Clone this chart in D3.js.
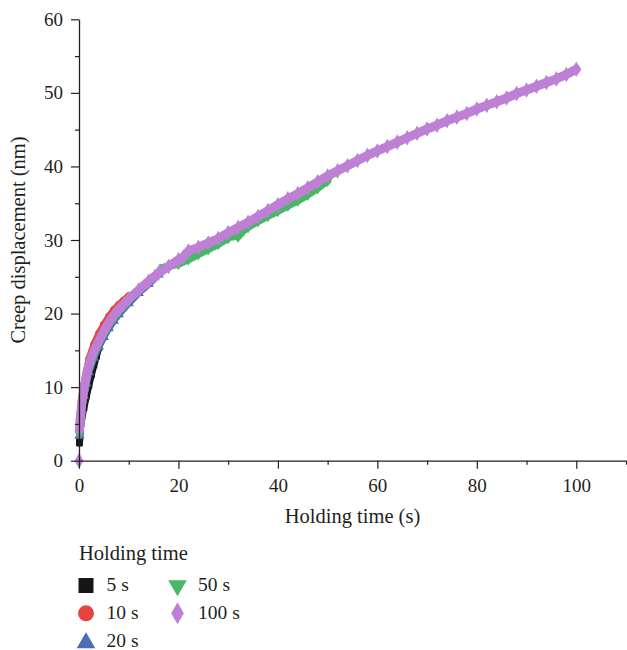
<!DOCTYPE html>
<html><head><meta charset="utf-8">
<script src="https://cdn.jsdelivr.net/npm/d3@7"></script>
<style>
body{margin:0;background:#fff}
svg{display:block}
text{font-family:"Liberation Serif","Times New Roman",serif;fill:#231f20}
</style>
</head><body>
<svg id="chart" width="627" height="650"></svg>
<script>
// ---- data ----
const seriesNames = ["5 s", "10 s", "20 s", "50 s", "100 s"];
const legendTitle = "Holding time";
const xTitle = "Holding time (s)";
const yTitle = "Creep displacement (nm)";

const t5 = [0.1, 0.3, 0.6, 1, 1.5, 2, 2.5, 3, 3.5, 4, 4.5, 5];
const v5 = [2.4, 4.6, 6.0, 7.2, 8.8, 10.3, 11.7, 13.0, 14.2, 15.4, 16.6, 18.4];

const t10 = [0.1, 0.25, 0.5, 1, 1.5, 2, 3, 4, 5, 6, 7, 8, 9, 10];
const v10 = [5.6, 6.4, 8.2, 10.3, 12.2, 13.8, 15.8, 17.3, 18.5, 19.6, 20.5, 21.2, 21.8, 22.4];

const t20 = [0.1, 0.25, 0.5, 1, 1.5, 2, 3, 4, 5, 6, 7, 8, 10, 12, 14, 16, 18, 20];
const v20 = [3.4, 5.0, 6.8, 8.8, 10.5, 12.0, 14.0, 15.5, 16.8, 18.0, 19.0, 19.9, 21.4, 22.8, 24.0, 25.3, 26.5, 27.2];

const t50 = [0.1, 0.25, 0.5, 1, 1.5, 2, 3, 4, 5, 6, 8, 10, 12, 14, 16, 17, 18, 20, 22, 24, 26, 28, 30, 31, 32, 33, 34, 36, 38, 40, 42, 44, 46, 48, 50];
const v50 = [3.6, 5.0, 7.0, 9.2, 11.0, 12.4, 14.4, 15.9, 17.2, 18.4, 20.2, 21.7, 23.0, 24.3, 25.6, 26.3, 26.4, 26.7, 27.3, 28.0, 28.7, 29.4, 30.2, 30.6, 30.4, 31.2, 31.7, 32.5, 33.2, 33.9, 34.6, 35.3, 36.1, 37.0, 38.0];

const t100 = [0, 0.1, 0.25, 0.5, 0.75, 1, 1.5, 2, 2.5, 3, 3.5, 4, 5, 6, 7, 8, 9, 10, 12, 14, 16, 18, 20, 21, 22, 24, 26, 28, 30, 32, 34, 36, 38, 40, 42, 44, 46, 48, 50, 52, 54, 56, 58, 60, 62, 64, 66, 68, 70, 72, 74, 76, 78, 80, 82, 84, 86, 88, 90, 92, 94, 96, 98, 100];
const v100 = [0, 4.2, 5.6, 7.4, 8.7, 9.8, 11.6, 13.0, 14.0, 14.9, 15.6, 16.3, 17.6, 18.8, 19.8, 20.6, 21.3, 22.0, 23.2, 24.4, 25.5, 26.4, 27.3, 27.7, 28.5, 29.0, 29.6, 30.2, 31.0, 31.7, 32.4, 33.2, 34.0, 34.8, 35.6, 36.3, 37.1, 37.9, 38.7, 39.4, 40.1, 40.8, 41.5, 42.1, 42.7, 43.3, 43.9, 44.5, 45.1, 45.6, 46.2, 46.7, 47.2, 47.8, 48.3, 48.8, 49.3, 49.9, 50.4, 50.9, 51.4, 51.9, 52.5, 53.2];

const xMajorTicks = [0, 20, 40, 60, 80, 100];
const xMinorTicks = [10, 30, 50, 70, 90, 110];
const yMajorTicks = [0, 10, 20, 30, 40, 50, 60];
const yMinorTicks = [5, 15, 25, 35, 45, 55];

// ---- styling ----
const colors = ["#161616", "#e8433f", "#4b6db6", "#46b866", "#bd80d4"];
const symbols = [d3.symbolSquare, d3.symbolCircle, d3.symbolTriangle, "down", d3.symbolDiamond];
const ink = "#231f20";

const svg = d3.select("#chart");
const x = d3.scaleLinear().domain([0, 110]).range([79, 626]);
const y = d3.scaleLinear().domain([0, 60]).range([460.7, 19.3]);

const series = [
  {t: t5, v: v5}, {t: t10, v: v10}, {t: t20, v: v20}, {t: t50, v: v50}, {t: t100, v: v100}
].map((s, i) => ({name: seriesNames[i], color: colors[i], sym: symbols[i],
  pts: s.t.map((tt, k) => ({t: tt, v: s.v[k]}))}));

function symPath(sym, size) {
  if (sym === "down") return d3.symbol(d3.symbolTriangle, size)();
  return d3.symbol(sym, size)();
}

// ---- data marks ----
const line = d3.line().defined(d => d.t > 0).x(d => x(d.t)).y(d => y(d.v)).curve(d3.curveLinear);
const gData = svg.append("g");
series.forEach((s, i) => {
  const g = gData.append("g");
  g.append("path").datum(s.pts).attr("d", line)
    .attr("fill", "none").attr("stroke", s.color)
    .attr("stroke-width", i === 4 ? 9 : 7)
    .attr("stroke-linejoin", "round").attr("stroke-linecap", "round");
  g.selectAll("path.m").data(s.pts).enter().append("path").attr("class", "m")
    .attr("d", symPath(s.sym, i === 4 ? 70 : 45))
    .attr("transform", d => `translate(${x(d.t)},${y(d.v)})` + (s.sym === "down" ? " rotate(180)" : ""))
    .attr("fill", s.color);
});

// ---- axes ----
function styleAxis(g) {
  g.selectAll("path.domain").attr("stroke", ink).attr("stroke-width", 1.3);
  g.selectAll(".tick line").attr("stroke", ink).attr("stroke-width", 1.2);
  g.selectAll(".tick text").attr("font-size", 19).attr("fill", ink)
    .attr("font-family", '"Liberation Serif","Times New Roman",serif');
}
const xAxisG = svg.append("g").attr("transform", `translate(0,${y(0)})`)
  .call(d3.axisBottom(x).tickValues(xMajorTicks).tickSize(8).tickSizeOuter(0).tickPadding(10).tickFormat(d3.format("d")));
styleAxis(xAxisG);
const xMinorG = svg.append("g").attr("transform", `translate(0,${y(0)})`)
  .call(d3.axisBottom(x).tickValues(xMinorTicks).tickSize(4).tickSizeOuter(0).tickFormat(""));
styleAxis(xMinorG);
xMinorG.select("path.domain").remove();

const yAxisG = svg.append("g").attr("transform", `translate(${x(0)},0)`)
  .call(d3.axisLeft(y).tickValues(yMajorTicks).tickSize(8).tickSizeOuter(0).tickPadding(8).tickFormat(d3.format("d")));
styleAxis(yAxisG);
const yMinorG = svg.append("g").attr("transform", `translate(${x(0)},0)`)
  .call(d3.axisLeft(y).tickValues(yMinorTicks).tickSize(4).tickSizeOuter(0).tickFormat(""));
styleAxis(yMinorG);
yMinorG.select("path.domain").remove();

// ---- axis titles ----
svg.append("text").attr("x", (x.range()[0] + x.range()[1]) / 2).attr("y", 523)
  .attr("text-anchor", "middle").attr("font-size", 20.5).text(xTitle);
svg.append("text").attr("transform", `translate(25,${(y.range()[0] + y.range()[1]) / 2}) rotate(-90)`)
  .attr("text-anchor", "middle").attr("font-size", 20.5).text(yTitle);

// ---- legend ----
const lg = svg.append("g");
lg.append("text").attr("x", 79).attr("y", 560).attr("font-size", 20.5).text(legendTitle);
const legPos = [
  {mx: 86, my: 585.5, tx: 106.5, ty: 591},
  {mx: 86, my: 613.3, tx: 106.5, ty: 619},
  {mx: 86, my: 643, tx: 106.5, ty: 647},
  {mx: 177.5, my: 585.5, tx: 198, ty: 591},
  {mx: 177.5, my: 613.3, tx: 198, ty: 619}
];
series.forEach((s, i) => {
  const p = legPos[i];
  lg.append("path").attr("d", symPath(s.sym, s.sym === d3.symbolCircle ? 200 : (s.sym === d3.symbolDiamond ? 140 : (s.sym === d3.symbolSquare ? 225 : 150))))
    .attr("transform", `translate(${p.mx},${p.my})` + (s.sym === "down" ? " rotate(180)" : ""))
    .attr("fill", s.color);
  lg.append("text").attr("x", p.tx).attr("y", p.ty).attr("font-size", 19.5).text(s.name);
});
</script>
</body></html>
